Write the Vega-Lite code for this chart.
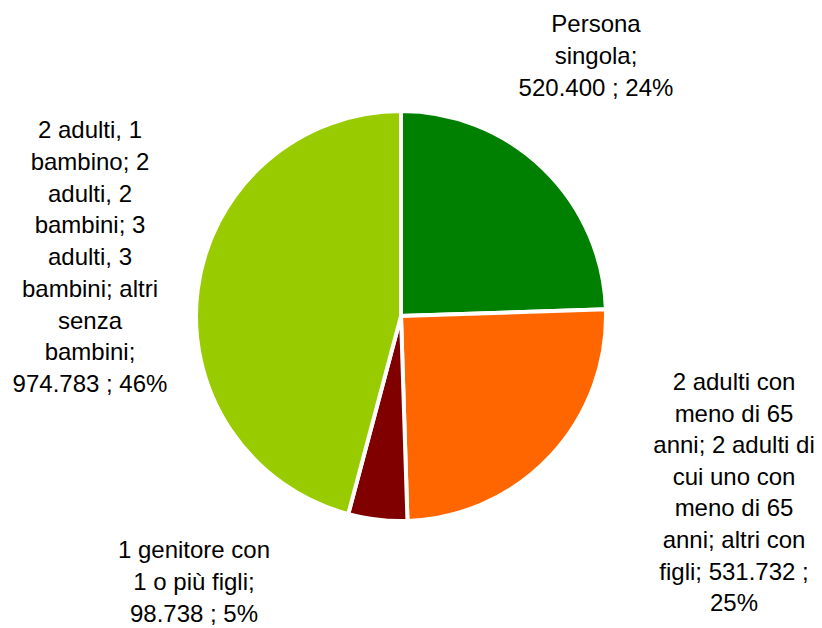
{
  "$schema": "https://vega.github.io/schema/vega-lite/v6.json",
  "width": 802,
  "height": 624,
  "autosize": {"type": "none"},
  "padding": {"left": 0, "right": 20, "top": 4, "bottom": 0},
  "background": "white",
  "view": {"stroke": null},
  "data": {
    "values": [
      {"ord": 1, "category": "Persona singola", "value": 520400, "label": "Persona\nsingola;\n520.400 ; 24%"},
      {"ord": 2, "category": "2 adulti con meno di 65 anni; 2 adulti di cui uno con meno di 65 anni; altri con figli", "value": 531732, "label": "2 adulti con\nmeno di 65\nanni; 2 adulti di\ncui uno con\nmeno di 65\nanni; altri con\nfigli;  531.732 ;\n25%"},
      {"ord": 3, "category": "1 genitore con 1 o più figli", "value": 98738, "label": "1 genitore con\n1 o più figli;\n98.738 ; 5%"},
      {"ord": 4, "category": "2 adulti, 1 bambino; 2 adulti, 2 bambini; 3 adulti, 3 bambini; altri senza bambini", "value": 974783, "label": "2 adulti, 1\nbambino; 2\nadulti, 2\nbambini; 3\nadulti, 3\nbambini; altri\nsenza\nbambini;\n974.783 ; 46%"}
    ]
  },
  "layer": [
    {
      "mark": {"type": "arc", "outerRadius": 205, "stroke": "white", "strokeWidth": 4},
      "encoding": {
        "theta": {"field": "value", "type": "quantitative", "stack": true},
        "order": {"field": "ord", "type": "quantitative"},
        "color": {
          "field": "ord",
          "type": "nominal",
          "scale": {"domain": [1, 2, 3, 4], "range": ["#008000", "#FF6600", "#800000", "#99CC00"]},
          "legend": null
        }
      }
    },
    {
      "transform": [{"filter": "datum.ord == 1"}],
      "mark": {"type": "text", "dx": 195, "dy": -291, "lineBreak": "\n", "font": "Liberation Sans", "fontSize": 24, "lineHeight": 32, "align": "center", "baseline": "middle", "color": "#000000"},
      "encoding": {"text": {"field": "label", "type": "nominal"}}
    },
    {
      "transform": [{"filter": "datum.ord == 2"}],
      "mark": {"type": "text", "dx": 333, "dy": 67, "lineBreak": "\n", "font": "Liberation Sans", "fontSize": 24, "lineHeight": 31.6, "align": "center", "baseline": "middle", "color": "#000000"},
      "encoding": {"text": {"field": "label", "type": "nominal"}}
    },
    {
      "transform": [{"filter": "datum.ord == 3"}],
      "mark": {"type": "text", "dx": -207, "dy": 235, "lineBreak": "\n", "font": "Liberation Sans", "fontSize": 24, "lineHeight": 32, "align": "center", "baseline": "middle", "color": "#000000"},
      "encoding": {"text": {"field": "label", "type": "nominal"}}
    },
    {
      "transform": [{"filter": "datum.ord == 4"}],
      "mark": {"type": "text", "dx": -311, "dy": -185, "lineBreak": "\n", "font": "Liberation Sans", "fontSize": 24, "lineHeight": 31.75, "align": "center", "baseline": "middle", "color": "#000000"},
      "encoding": {"text": {"field": "label", "type": "nominal"}}
    }
  ]
}
